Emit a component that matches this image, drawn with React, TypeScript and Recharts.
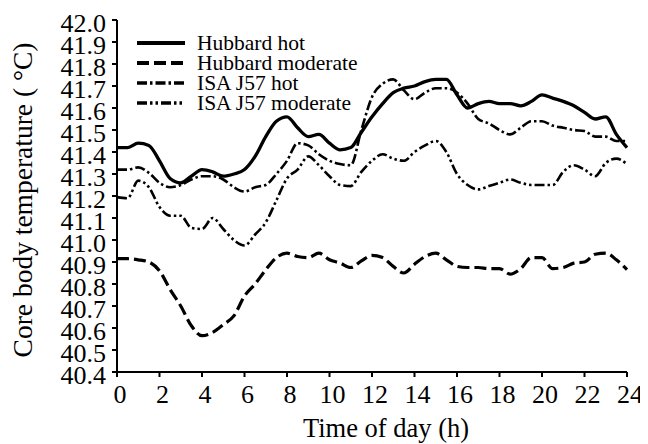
import { LineChart, Line, XAxis, YAxis, Label } from "recharts";

const FONT = "'Liberation Serif', 'Times New Roman', serif";

// time of day, half-hour steps
const hours = [
  0, 0.5, 1, 1.5, 2, 2.5, 3, 3.5, 4, 4.5, 5, 5.5, 6, 6.5, 7, 7.5, 8, 8.5, 9, 9.5,
  10, 10.5, 11, 11.5, 12, 12.5, 13, 13.5, 14, 14.5, 15, 15.5, 16, 16.5, 17, 17.5,
  18, 18.5, 19, 19.5, 20, 20.5, 21, 21.5, 22, 22.5, 23, 23.5, 24,
];

const hubbardHot = [
  41.42, 41.42, 41.44, 41.43, 41.36, 41.28, 41.26, 41.29, 41.32, 41.31, 41.29,
  41.3, 41.32, 41.38, 41.47, 41.54, 41.56, 41.51, 41.47, 41.48, 41.44, 41.41,
  41.42, 41.49, 41.56, 41.62, 41.67, 41.69, 41.7, 41.72, 41.73, 41.73, 41.66,
  41.6, 41.62, 41.63, 41.62, 41.62, 41.61, 41.63, 41.66, 41.645, 41.63, 41.61,
  41.58, 41.55, 41.56, 41.48, 41.42,
];

const hubbardModerate = [
  40.915, 40.915, 40.91, 40.9, 40.86, 40.775, 40.7, 40.61, 40.565, 40.58, 40.615,
  40.655, 40.745, 40.8, 40.865, 40.92, 40.94, 40.925, 40.92, 40.94, 40.91, 40.895,
  40.875, 40.905, 40.93, 40.92, 40.88, 40.85, 40.89, 40.925, 40.94, 40.91, 40.88,
  40.875, 40.875, 40.87, 40.87, 40.845, 40.87, 40.92, 40.92, 40.87, 40.875,
  40.895, 40.9, 40.935, 40.94, 40.91, 40.865,
];

const isaHot = [
  41.32, 41.32, 41.33, 41.305, 41.26, 41.24, 41.25, 41.275, 41.29, 41.29, 41.275,
  41.24, 41.22, 41.24, 41.25, 41.3, 41.36, 41.44, 41.43, 41.39, 41.36, 41.345,
  41.34, 41.5, 41.65, 41.71, 41.73, 41.68, 41.64, 41.67, 41.69, 41.69, 41.67,
  41.62, 41.55, 41.53, 41.5, 41.48, 41.51, 41.54, 41.54, 41.52, 41.51, 41.5,
  41.495, 41.47, 41.47, 41.45, 41.45,
];

const isaModerate = [
  41.195, 41.19, 41.27, 41.24, 41.15, 41.11, 41.11, 41.055, 41.05, 41.1, 41.05,
  41.0, 40.975, 41.025, 41.08, 41.18, 41.28, 41.32, 41.38, 41.34, 41.29, 41.25,
  41.245, 41.31, 41.36, 41.39, 41.37, 41.36, 41.4, 41.43, 41.45, 41.4, 41.3,
  41.25, 41.23, 41.245, 41.26, 41.275, 41.26, 41.25, 41.25, 41.25, 41.31, 41.34,
  41.32, 41.29, 41.35, 41.37, 41.345,
];

const xTicks = [0, 2, 4, 6, 8, 10, 12, 14, 16, 18, 20, 22, 24];
const yTicks = [
  40.4, 40.5, 40.6, 40.7, 40.8, 40.9, 41.0, 41.1, 41.2, 41.3, 41.4, 41.5, 41.6,
  41.7, 41.8, 41.9, 42.0,
];

const series = [
  { key: "hubbardHot", name: "Hubbard hot", dash: undefined, width: 3.3 },
  { key: "hubbardModerate", name: "Hubbard moderate", dash: "12 5", width: 3.2 },
  { key: "isaHot", name: "ISA J57 hot", dash: "10 3 2.5 3", width: 2.6 },
  { key: "isaModerate", name: "ISA J57 moderate", dash: "10 3 2.5 3 2.5 3", width: 2.6 },
];

const data = hours.map((h, i) => ({
  h,
  hubbardHot: hubbardHot[i],
  hubbardModerate: hubbardModerate[i],
  isaHot: isaHot[i],
  isaModerate: isaModerate[i],
}));

const YTick = ({ x, y, payload }: any) => (
  <text
    x={x}
    y={y + 3}
    textAnchor="end"
    dominantBaseline="central"
    fontSize={26}
    fontFamily={FONT}
    fill="#000"
  >
    {Number(payload.value).toFixed(1)}
  </text>
);

const XTick = ({ x, y, payload }: any) => (
  <text x={x + 3} y={y + 26} textAnchor="middle" fontSize={26} fontFamily={FONT} fill="#000">
    {payload.value}
  </text>
);

function ChartLegend() {
  return (
    <div
      style={{
        position: "absolute",
        left: 129,
        top: 25,
        fontFamily: FONT,
        fontSize: 21.5,
        color: "#000",
      }}
    >
      {series.map((s) => (
        <div key={s.key} style={{ display: "flex", alignItems: "center", height: 20 }}>
          <svg width={48} height={20}>
            <line
              x1={0}
              y1={10}
              x2={48}
              y2={10}
              stroke="#000"
              strokeWidth={s.width + 0.8}
              strokeDasharray={s.dash}
            />
          </svg>
          <span style={{ marginLeft: 12, lineHeight: "20px", whiteSpace: "nowrap" }}>{s.name}</span>
        </div>
      ))}
    </div>
  );
}

export default function App() {
  return (
    <div style={{ position: "relative", width: 640, height: 436 }}>
      <LineChart width={640} height={436} data={data} margin={{ top: 12, right: 21, left: 0, bottom: 0 }}>
        <XAxis
          dataKey="h"
          type="number"
          domain={[0, 24]}
          ticks={xTicks}
          height={72}
          tickSize={5}
          tickMargin={0}
          tick={<XTick />}
          axisLine={{ stroke: "#000", strokeWidth: 2 }}
          tickLine={{ stroke: "#000", strokeWidth: 2 }}
          interval={0}
        >
          <Label
            content={() => (
              <text x={378} y={429} textAnchor="middle" fontSize={26.5} fontFamily={FONT} fill="#000">
                Time of day (h)
              </text>
            )}
          />
        </XAxis>
        <YAxis
          type="number"
          domain={[40.4, 42.0]}
          ticks={yTicks}
          width={109}
          tickSize={5}
          tickMargin={6}
          tick={<YTick />}
          axisLine={{ stroke: "#000", strokeWidth: 2 }}
          tickLine={{ stroke: "#000", strokeWidth: 2 }}
          interval={0}
        >
          <Label
            content={() => (
              <text
                x={14}
                y={192}
                transform="rotate(-90 14 192)"
                textAnchor="middle"
                dominantBaseline="central"
                fontSize={27.5}
                fontFamily={FONT}
                fill="#000"
              >
                Core body temperature ( °C)
              </text>
            )}
          />
        </YAxis>
        {series.map((s) => (
          <Line
            key={s.key}
            dataKey={s.key}
            name={s.name}
            type="monotone"
            stroke="#000"
            strokeWidth={s.width}
            strokeDasharray={s.dash}
            dot={false}
            isAnimationActive={false}
          />
        ))}
      </LineChart>
      <ChartLegend />
    </div>
  );
}
